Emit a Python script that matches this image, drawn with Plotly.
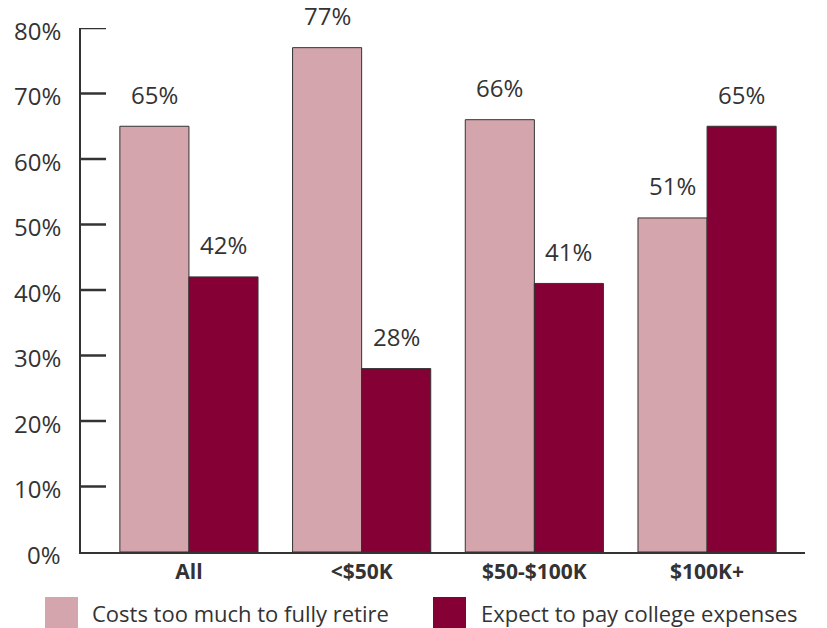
import plotly.graph_objects as go

# Survey results by household income
categories = ["All", "<$50K", "$50-$100K", "$100K+"]
retire_cost = [65, 77, 66, 51]       # Costs too much to fully retire
college_pay = [42, 28, 41, 65]       # Expect to pay college expenses
series_names = ["Costs too much to fully retire", "Expect to pay college expenses"]
y_ticks = [0, 10, 20, 30, 40, 50, 60, 70, 80]

PINK = "#D4A5AC"
MAROON = "#850034"
INK = "#333333"
FONT = "Open Sans"

W, H = 827, 628
ML, MR, MT, MB = 81, 22, 28, 76
PW, PH = W - ML - MR, H - MT - MB

fig = go.Figure()
for name, vals, color in [(series_names[0], retire_cost, PINK),
                          (series_names[1], college_pay, MAROON)]:
    fig.add_trace(go.Bar(
        x=categories, y=vals, name=name,
        marker=dict(color=color, line=dict(color=INK, width=1)),
        showlegend=False,
    ))

# value labels above each bar (bars sit at category index -/+ 0.2)
for offset, vals in [(-0.2, retire_cost), (0.2, college_pay)]:
    for i, v in enumerate(vals):
        fig.add_annotation(
            x=i + offset, y=v, xref="x", yref="y", text=f"{v}%",
            showarrow=False, yanchor="middle", yshift=32,
            font=dict(family=FONT, size=24, color=INK),
        )

# value-axis tick marks (pointing into the plot) and their labels
for t in y_ticks:
    if t > 0:
        fig.add_shape(type="line", xref="paper", yref="y",
                      x0=0, x1=25 / PW, y0=t, y1=t,
                      line=dict(color=INK, width=2.5), layer="above")
    fig.add_annotation(x=-18 / PW, y=t, xref="paper", yref="y",
                       text=f"{t}%", showarrow=False,
                       xanchor="right", yanchor="middle", yshift=-2,
                       font=dict(family=FONT, size=24, color=INK))

# legend drawn as large swatches with labels
def px_x(px):
    return (px - ML) / PW

def px_y(py):
    return (H - MB - py) / PH

legend_items = [(45, 90, PINK, series_names[0]), (433, 479, MAROON, series_names[1])]
for sx, tx, color, label in legend_items:
    fig.add_shape(type="rect", xref="paper", yref="paper",
                  x0=px_x(sx), x1=px_x(sx + 33), y0=px_y(628), y1=px_y(597),
                  fillcolor=color, line=dict(width=0))
    fig.add_annotation(x=px_x(tx), y=px_y(613), xref="paper", yref="paper",
                       text=label, showarrow=False, xanchor="left", yanchor="middle",
                       font=dict(family=FONT, size=22, color=INK))

fig.update_layout(
    width=W, height=H,
    margin=dict(l=ML, r=MR, t=MT, b=MB, pad=0),
    paper_bgcolor="white", plot_bgcolor="white",
    barmode="group", bargap=0.2, bargroupgap=0,
    font=dict(family=FONT, color=INK),
)
fig.update_xaxes(
    range=[-0.625, 3.567], showline=True, linecolor=INK, linewidth=2,
    ticks="", showgrid=False, zeroline=False,
    tickfont=dict(family=FONT, size=21, color=INK, weight="bold"),
)
fig.update_yaxes(
    range=[0, 80], showline=True, linecolor=INK, linewidth=2,
    ticks="", showgrid=False, zeroline=False, showticklabels=False,
)

fig.write_html("out.html")
